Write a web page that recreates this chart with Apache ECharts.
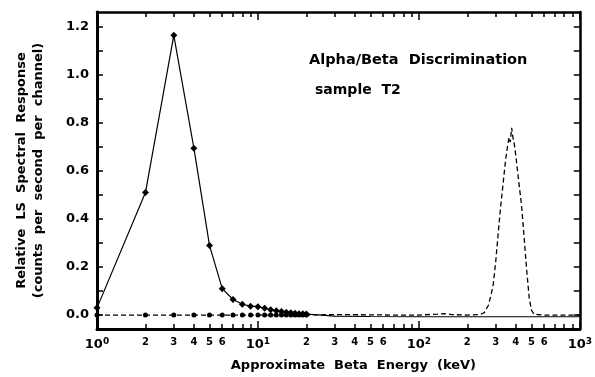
<!DOCTYPE html>
<html><head><meta charset="utf-8">
<script src="https://cdn.jsdelivr.net/npm/echarts@6/dist/echarts.min.js"></script>
<style>html,body{margin:0;padding:0;background:#fff}#c{width:595px;height:377px}</style>
</head><body><div id="c"></div>
<script>
// Beta-like (solid, diamonds) series
const betaX = [1,2,3,4,5,6,7,8,9,10,11,12,13,14,15,16,17,18,19,20,25,30,50,100,1000];
const betaY = [0.03,0.51,1.165,0.695,0.29,0.11,0.065,0.045,0.037,0.035,0.028,0.022,0.018,0.015,0.012,0.010,0.008,0.006,0.005,0.004,0.0,-0.004,-0.006,-0.007,-0.007];
// Alpha (dashed, dots) series
const alphaX = [1,2,3,4,5,6,7,8,9,10,11,12,13,14,15,16,17,18,19,20,30,50,70,100,130,145,160,200,240,255,270,280,290,300,311,322,334,345,355,363,370,377,384,392,401,415,434,450,467,485,501,520,600,1000];
const alphaY = [0,0,0,0,0,0,0,0,0,0,0,0,0,0,0,0,0,0,0,0,0.002,0.001,0,0,0.004,0.006,0.002,0,0.002,0.01,0.04,0.08,0.13,0.22,0.34,0.45,0.55,0.64,0.70,0.74,0.72,0.78,0.74,0.71,0.66,0.57,0.46,0.33,0.19,0.07,0.02,0.003,0,0];
const markerLimit = 20;
// Axis tick/label values
const xLabelValues = [1,2,3,4,5,6,10,20,30,40,50,60,100,200,300,400,500,600,1000];
const xMinorTicks = [2,3,4,5,6,7,8,9,20,30,40,50,60,70,80,90,200,300,400,500,600,700,800,900];
const xMajorTicks = [1,10,100,1000];
const yLabelValues = [0,0.2,0.4,0.6,0.8,1.0,1.2];
const yTickValues = [0,0.1,0.2,0.3,0.4,0.5,0.6,0.7,0.8,0.9,1.0,1.1,1.2];

const FONT = 'DejaVu Sans';
const chart = echarts.init(document.getElementById('c'));
const logAx = (extra) => Object.assign({
  type: 'log', logBase: 10, min: 1, max: 1000, gridIndex: 0,
  splitLine: {show: false}, axisLine: {show: false, onZero: false},
  axisLabel: {show: false}, axisTick: {show: false}
}, extra);
const yAx = (extra) => Object.assign({
  type: 'value', min: -0.058, max: 1.262, splitLine: {show: false}
}, extra);

chart.setOption({
  animation: false,
  backgroundColor: '#fff',
  grid: {left: 97, right: 15, top: 12, bottom: 47},
  title: [
    {text: 'Alpha/Beta  Discrimination', left: 304, top: 48,
     textStyle: {fontFamily: FONT, fontWeight: 'bold', fontSize: 14.5, color: '#000'}},
    {text: 'sample  T2', left: 310, top: 78,
     textStyle: {fontFamily: FONT, fontWeight: 'bold', fontSize: 14, color: '#000'}}
  ],
  xAxis: [
    logAx({position: 'bottom',
      axisLine: {show: true, onZero: false, lineStyle: {color: '#000', width: 3}},
      axisTick: {show: true, inside: true, length: 5, customValues: xMinorTicks, lineStyle: {color: '#000', width: 1.5}},
      axisLabel: {show: true, customValues: xLabelValues, margin: 8,
        formatter: function (v) {
          const r = Math.round(v);
          const e = Math.round(Math.log10(r));
          if (Math.abs(Math.pow(10, e) - r) < 1e-6) return '{b|10}{s|' + e + '}';
          return '{m|' + String(r).charAt(0) + '}';
        },
        rich: {
          b: {fontFamily: FONT, fontWeight: 'bold', fontSize: 13, color: '#000'},
          s: {fontFamily: FONT, fontWeight: 'bold', fontSize: 9, color: '#000', verticalAlign: 'top', padding: [0,0,6,0]},
          m: {fontFamily: FONT, fontWeight: 'bold', fontSize: 10, color: '#000'}
        }},
      name: 'Approximate  Beta  Energy  (keV)', nameLocation: 'middle', nameGap: 30,
      nameTextStyle: {fontFamily: FONT, fontWeight: 'bold', fontSize: 13, color: '#000', padding: [0,0,0,30]}
    }),
    logAx({position: 'bottom',
      axisTick: {show: true, inside: true, length: 8, customValues: xMajorTicks, lineStyle: {color: '#000', width: 1.5}}}),
    logAx({position: 'top',
      axisLine: {show: true, onZero: false, lineStyle: {color: '#000', width: 2.5}},
      axisTick: {show: true, inside: true, length: 5, customValues: xMinorTicks, lineStyle: {color: '#000', width: 1.5}}}),
    logAx({position: 'top',
      axisTick: {show: true, inside: true, length: 8, customValues: xMajorTicks, lineStyle: {color: '#000', width: 1.5}}})
  ],
  yAxis: [
    yAx({position: 'left',
      axisLine: {show: true, onZero: false, lineStyle: {color: '#000', width: 3}},
      axisTick: {show: true, inside: true, length: 6, customValues: yTickValues, lineStyle: {color: '#000', width: 1.5}},
      axisLabel: {show: true, customValues: yLabelValues, margin: 8,
        formatter: v => v.toFixed(1),
        fontFamily: FONT, fontWeight: 'bold', fontSize: 13, color: '#000'},
      name: 'Relative  LS  Spectral  Response\n(counts  per  second  per  channel)',
      nameLocation: 'middle', nameRotate: 90, nameGap: 50,
      nameTextStyle: {fontFamily: FONT, fontWeight: 'bold', fontSize: 13, color: '#000', lineHeight: 17}
    }),
    yAx({position: 'right',
      axisLine: {show: true, onZero: false, lineStyle: {color: '#000', width: 2.5}},
      axisTick: {show: true, inside: true, length: 6, customValues: yTickValues, lineStyle: {color: '#000', width: 1.5}},
      axisLabel: {show: false}})
  ],
  series: [
    {type: 'line', xAxisIndex: 0, yAxisIndex: 0,
     data: alphaX.map((x, i) => [x, alphaY[i]]),
     symbol: (v) => v[0] <= markerLimit ? 'circle' : 'none', symbolSize: 5,
     showAllSymbol: true,
     lineStyle: {color: '#000', width: 1.3, type: [5, 3]},
     itemStyle: {color: '#000'}, z: 2},
    {type: 'line', xAxisIndex: 0, yAxisIndex: 0,
     data: betaX.map((x, i) => [x, betaY[i]]),
     symbol: (v) => v[0] <= markerLimit ? 'diamond' : 'none', symbolSize: 7,
     showAllSymbol: true,
     lineStyle: {color: '#000', width: 1.2},
     itemStyle: {color: '#000'}, z: 3}
  ]
});
</script></body></html>
